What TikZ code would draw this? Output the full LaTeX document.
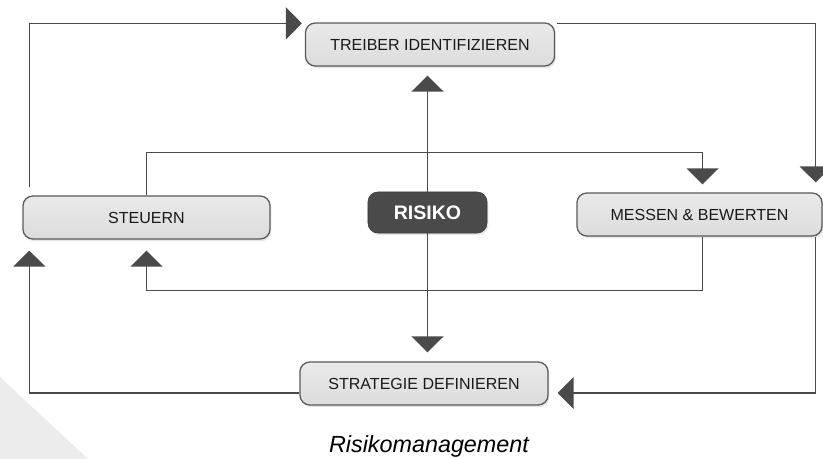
\documentclass[tikz,border=0pt]{standalone}
\usepackage{fontspec}
\setmainfont{Liberation Sans}
\usepackage{tikz}
\usepackage{xcolor}
\usetikzlibrary{arrows.meta,positioning,calc,shadows}
\definecolor{rkline}{HTML}{5A5A5A}
\definecolor{rkdark}{HTML}{4A4A4A}
\definecolor{rkbox}{HTML}{DCDCDC}
\definecolor{rkcorner}{HTML}{ECECEC}
\tikzset{
  stepBox/.style={draw=rkline, line width=0.9pt, top color=rkbox!60, bottom color=rkbox,
    rounded corners=7pt, minimum height=1.075cm, align=center, text=black!90,
    font=\fontsize{11.4}{13}\selectfont, drop shadow={opacity=0.2, shadow xshift=1pt, shadow yshift=-1.5pt}},
  coreBox/.style={draw=rkdark!80!black, fill=rkdark, rounded corners=7pt, minimum width=2.975cm,
    minimum height=1.025cm, text=white, font=\fontsize{13.9}{16}\selectfont\bfseries,
    drop shadow={opacity=0.2, shadow xshift=1pt, shadow yshift=-1.5pt}},
  flowArrow/.style={-{Triangle[length=4mm, width=8mm]}, line width=1.05pt, draw=rkline, color=rkdark},
  capLabel/.style={font=\fontsize{16.6}{19}\selectfont\itshape, anchor=base}
}

\begin{document}
\begin{tikzpicture}[x=0.025cm,y=-0.025cm]
  \useasboundingbox (0,0) rectangle (823,459);
  \fill[rkcorner] (0,377) -- (0,459) -- (88,459) -- cycle;

  \node[stepBox, minimum width=6.225cm] (treiber) at (430,44.5) {TREIBER IDENTIFIZIEREN};
  \node[stepBox, minimum width=6.175cm] (steuern) at (146.5,217.5) {STEUERN};
  \node[stepBox, minimum width=6.125cm] (messen) at (699.5,214.5) {MESSEN \& BEWERTEN};
  \node[stepBox, minimum width=6.2cm] (strategie) at (424,383.5) {STRATEGIE DEFINIEREN};
  \node[coreBox] (risiko) at (427.5,212.5) {RISIKO};
  \node[capLabel] (caption) at (429,452) {Risikomanagement};

  % outer loop
  \draw[flowArrow] ($(steuern.north west)+(7,-8)$) |- ($(treiber.north west)+(-3,1)$);
  \draw[flowArrow] ($(treiber.north east)+(2,1)$) -| ($(messen.north east)+(-7,-10)$);
  \draw[flowArrow] ($(messen.south east)+(-7,0)$) |- ($(strategie.east)+(9,9.5)$);
  \draw[flowArrow] ($(strategie.west)+(0,9.5)$) -| ($(steuern.south west)+(7,11)$);

  % from the centre
  \draw[flowArrow] (risiko.north) -- ($(risiko.north |- treiber.south)+(0,9)$);
  \draw[flowArrow] (risiko.south) -- ($(risiko.south |- strategie.north)+(0,-9)$);

  % inner loop
  \draw[flowArrow] (steuern.north) -- ++(0,-43) -| ($(messen.north)+(3,-8)$);
  \draw[flowArrow] ($(messen.south)+(3,0)$) -- ++(0,54) -| ($(steuern.south)+(0,11)$);
\end{tikzpicture}
\end{document}
